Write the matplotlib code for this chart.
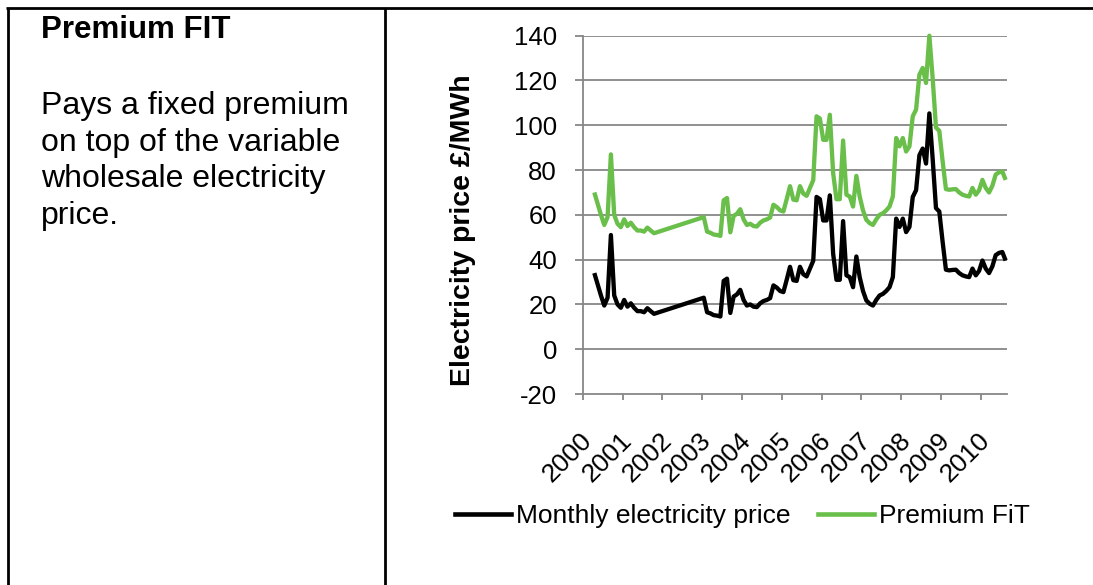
import matplotlib
matplotlib.use("Agg")
import matplotlib.pyplot as plt
import matplotlib.transforms as mtransforms
from matplotlib.lines import Line2D
import numpy as np
import pandas as pd

plt.rcParams["font.family"] = ["Liberation Sans", "DejaVu Sans"]

# Monthly data, Apr 2000 - Oct 2001 and Jan 2003 - Aug 2010 (no data for 2002)
months_a = pd.period_range("2000-04", "2001-10", freq="M")
months_b = pd.period_range("2003-01", "2010-08", freq="M")

wholesale_a = [34, 29, 24, 19.5, 23, 51, 24, 20, 18.5, 22, 19, 20.5, 18.5, 17, 17,
               16.5, 18.3, 17, 15.8]
wholesale_b = [23, 16.5, 16, 15.2, 15, 14.6, 30.5, 31.5, 16.2, 23.5, 24.5, 26.5,
               22, 19.5, 20, 19, 18.8, 20.5, 21.5, 22, 22.8, 28.5, 27.5, 26,
               25.5, 31, 36.8, 30.8, 30.5, 36.8, 33.5, 32.5, 36, 39.5, 68, 67,
               57.5, 57.5, 68.7, 42.6, 31, 31, 57.2, 33, 32.2, 27.7, 41.4, 32.2,
               26, 21.8, 20.3, 19.5, 22, 24, 24.7, 26, 27.7, 32.2, 58.3, 54.6,
               58.3, 52.3, 54.6, 68, 71, 86.6, 89.6, 82.9, 105.3, 85, 63, 61.5,
               48, 35.5, 35.2, 35.4, 35.5, 34, 33, 32.5, 32.2, 36, 33, 35,
               39.6, 36, 34, 37, 42, 43, 43.4, 39.6]

premium_a = [70, 65, 60, 55.5, 59, 87, 60, 56, 54.5, 58, 55, 56.5, 54.5, 53, 53,
             52.5, 54.3, 53, 51.8]
premium_b = [59, 52.5, 52, 51.2, 51, 50.6, 66.5, 67.5, 52.2, 59.5, 60.5, 62.5,
             58, 55.5, 56, 55, 54.8, 56.5, 57.5, 58, 58.8, 64.5, 63.5, 62,
             61.5, 67, 72.8, 66.8, 66.5, 72.8, 69.5, 68.5, 72, 75.5, 104, 103,
             93.5, 93.5, 104.7, 78.6, 67, 67, 93.2, 69, 68.2, 63.7, 77.4, 68.2,
             62, 57.8, 56.3, 55.5, 58, 60, 60.7, 62, 63.7, 68.2, 94.3, 90.6,
             94.3, 88.3, 90.6, 104, 107, 122.6, 125.6, 118.9, 140, 121, 99, 97.5,
             84, 71.5, 71.2, 71.4, 71.5, 70, 69, 68.5, 68.2, 72, 69, 71,
             75.6, 72, 70, 73, 78, 79, 79.4, 75.6]

year_labels = [str(y) for y in range(2000, 2011)]
y_ticks = list(range(-20, 141, 20))

series_names = ["Monthly electricity price", "Premium FiT"]
heading = "Premium FIT"
body_lines = ["Pays a fixed premium", "on top of the variable",
              "wholesale electricity", "price."]

BLACK = "#000000"
GREEN = "#6abf4b"
GRID = "#878787"

W, H = 1093, 585
fig = plt.figure(figsize=(W / 100, H / 100), dpi=100)
fig.patch.set_facecolor("white")


def fx(px):
    return px / W


def fy(py):
    return 1 - py / H


# table frame
frame = dict(color="black", lw=2.0, solid_capstyle="butt")
fig.add_artist(Line2D([fx(6), fx(W)], [fy(8), fy(8)], transform=fig.transFigure, **frame))
fig.add_artist(Line2D([fx(7.5), fx(7.5)], [fy(8), fy(H)], transform=fig.transFigure, **frame))
fig.add_artist(Line2D([fx(385), fx(385)], [fy(8), fy(H)], transform=fig.transFigure, **frame))

# left cell text
fig.text(fx(41), fy(38), heading, fontsize=22.5, fontweight="bold",
         ha="left", va="baseline")
for i, line in enumerate(body_lines):
    fig.text(fx(41), fy(114 + 36.7 * i), line, fontsize=23,
             ha="left", va="baseline")


def to_x(periods):
    return np.array([p.year + (p.month - 0.5) / 12 for p in periods])


ax = fig.add_axes([fx(582.7), fy(394), fx(1007.3) - fx(582.7), fy(35.7) - fy(394)])
ax.set_facecolor("white")

x_all = np.concatenate([to_x(months_a), to_x(months_b)])
w_all = np.array(wholesale_a + wholesale_b)
p_all = np.array(premium_a + premium_b)

ax.plot(x_all, w_all, color=BLACK, lw=3.1, solid_joinstyle="round",
        solid_capstyle="butt", zorder=3, clip_on=False)
ax.plot(x_all, p_all, color=GREEN, lw=3.1, solid_joinstyle="round",
        solid_capstyle="butt", zorder=3, clip_on=False)

ax.set_xlim(2000, 2000 + 128 / 12)
ax.set_ylim(-20, 140)

ax.set_yticks(y_ticks)
ax.set_yticklabels([str(v) for v in y_ticks])
ax.set_xticks(np.arange(2000, 2011))
ax.set_xticklabels(year_labels, rotation=45, ha="right", va="top",
                   rotation_mode="anchor")

for v in y_ticks:
    if v > -20:
        ax.axhline(v, color=GRID, lw=1.3, zorder=1)

for side in ("top", "right"):
    ax.spines[side].set_visible(False)
for side in ("left", "bottom"):
    ax.spines[side].set_color(GRID)
    ax.spines[side].set_linewidth(1.3)

ax.tick_params(axis="y", direction="out", length=5.5, width=1.3, color=GRID,
               labelsize=18.5, pad=13)
ax.tick_params(axis="x", direction="out", length=4.5, width=1.3, color=GRID,
               labelsize=19, pad=20)

offset = mtransforms.ScaledTranslation(-3 / 100, 0, fig.dpi_scale_trans)
for lab in ax.get_xticklabels():
    lab.set_transform(lab.get_transform() + offset)

fig.text(fx(463), fy(230), "Electricity price £/MWh", fontsize=20.5,
         fontweight="bold", rotation=90, ha="center", va="center")

handles = [Line2D([], [], color=BLACK, lw=3.3),
           Line2D([], [], color=GREEN, lw=3.3)]
fig.legend(handles, series_names, loc="center", ncol=2,
           bbox_to_anchor=(fx(742.5), fy(516)), frameon=False, fontsize=19,
           handlelength=2.1, handletextpad=0.2, columnspacing=1.05)

fig.savefig("out.png", dpi=100, facecolor="white")
